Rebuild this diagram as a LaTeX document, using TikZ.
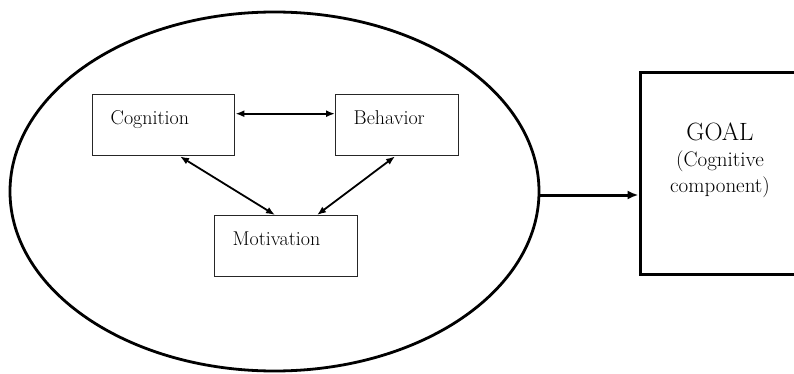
\documentclass[tikz,border=0pt]{standalone}
\usepackage{fontspec}
\usetikzlibrary{shapes.geometric,arrows.meta}
\tikzset{
  box/.style={draw=black!85, line width=1.4pt, rectangle, anchor=north west,
    font=\fontsize{20}{24}\selectfont, align=left,
    inner xsep=18pt, inner ysep=16pt, text height=14pt, text depth=15pt},
  twoway/.style={line width=1.8pt, {Latex[length=9pt,width=7pt]}-{Latex[length=9pt,width=7pt]}},
  group/.style={draw, ellipse, line width=2.8pt, inner sep=0pt},
  goalbox/.style={draw, rectangle, line width=3pt, inner sep=0pt},
  oneway/.style={line width=3pt, -{Latex[length=11pt,width=9pt]}}
}
\begin{document}
\begin{tikzpicture}[x=1pt,y=-1pt]
\useasboundingbox (0,0) rectangle (794,374);
\node[group, minimum width=529pt, minimum height=359pt] (grp) at (274.5,191.5) {};
\node[box, text width=106pt] (cog) at (92,94) {Cognition};
\node[box, text width=87pt] (beh) at (335,94) {Behavior};
\node[box, text width=107pt] (mot) at (214,215) {Motivation};
\node[goalbox, minimum width=160pt, minimum height=201pt] (goal) at (720,173.5) {};
\node[align=center, font=\fontsize{21}{26}\selectfont] (goaltxt) at (720,160)
  {{\fontsize{25}{26}\selectfont GOAL}\\(Cognitive\\component)};
\draw[twoway] ([yshift=11.5pt]cog.east) -- ([yshift=11.5pt]cog.east -| beh.west);
\draw[twoway] ([xshift=88pt]cog.south west) -- ([xshift=61pt]mot.north west);
\draw[twoway] ([xshift=60pt]beh.south west) -- ([xshift=103pt]mot.north west);
\draw[oneway] ([yshift=-3.5pt]grp.east) -- ([yshift=-3.5pt]grp.east -| goal.west);
\end{tikzpicture}
\end{document}
